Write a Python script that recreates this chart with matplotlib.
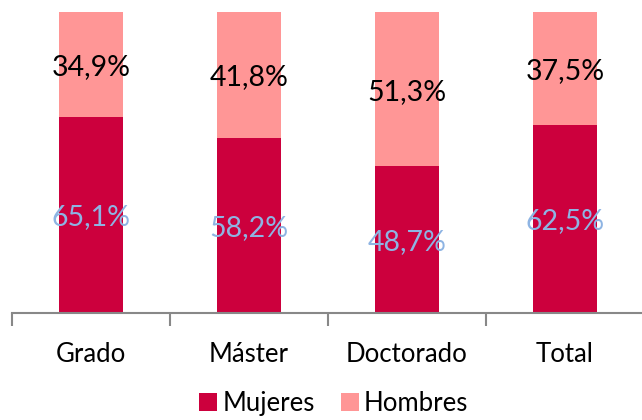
import numpy as np
import matplotlib.pyplot as plt

categorias = ['Grado', 'Máster', 'Doctorado', 'Total']
mujeres = [65.1, 58.2, 48.7, 62.5]
hombres = [34.9, 41.8, 51.3, 37.5]

c_muj = '#CC003D'
c_hom = '#FF9696'

plt.rcParams['font.family'] = ['Lato', 'DejaVu Sans']

fig = plt.figure(figsize=(6.42, 4.2), dpi=100)
ax = fig.add_axes([12/642, 107/420, 632/642, 301/420])

x = np.arange(len(categorias))
b1 = ax.bar(x, mujeres, width=0.4, color=c_muj, label='Mujeres')
b2 = ax.bar(x, hombres, width=0.4, bottom=mujeres, color=c_hom, label='Hombres')

for i in range(len(x)):
    ax.text(x[i], mujeres[i]/2, ('%.1f%%' % mujeres[i]).replace('.', ','),
            ha='center', va='center_baseline', fontsize=20.5, color='#8EB4E3')
    ax.text(x[i], mujeres[i] + hombres[i]/2, ('%.1f%%' % hombres[i]).replace('.', ','),
            ha='center', va='center_baseline', fontsize=20.5, color='black')

ax.set_xlim(-0.5, 3.5)
ax.set_ylim(0, 100)
ax.set_yticks([])
for s in ['top', 'right', 'left']:
    ax.spines[s].set_visible(False)
ax.spines['bottom'].set_color('#888888')
ax.spines['bottom'].set_linewidth(1.5)

ax.set_xticks(x)
ax.set_xticklabels(categorias, fontsize=18.5)
ax.tick_params(axis='x', which='major', length=0, pad=21)
ax.set_xticks(np.arange(-0.5, 4, 1), minor=True)
ax.tick_params(axis='x', which='minor', length=9, width=1.5, color='#888888')

fig.legend(handles=[b1, b2], loc='lower center', bbox_to_anchor=(0.52, -0.045), ncol=2,
           frameon=False, fontsize=18.5, handlelength=0.7, handleheight=0.7,
           handletextpad=0.2, columnspacing=1.0)

fig.savefig('out.png', dpi=100)
